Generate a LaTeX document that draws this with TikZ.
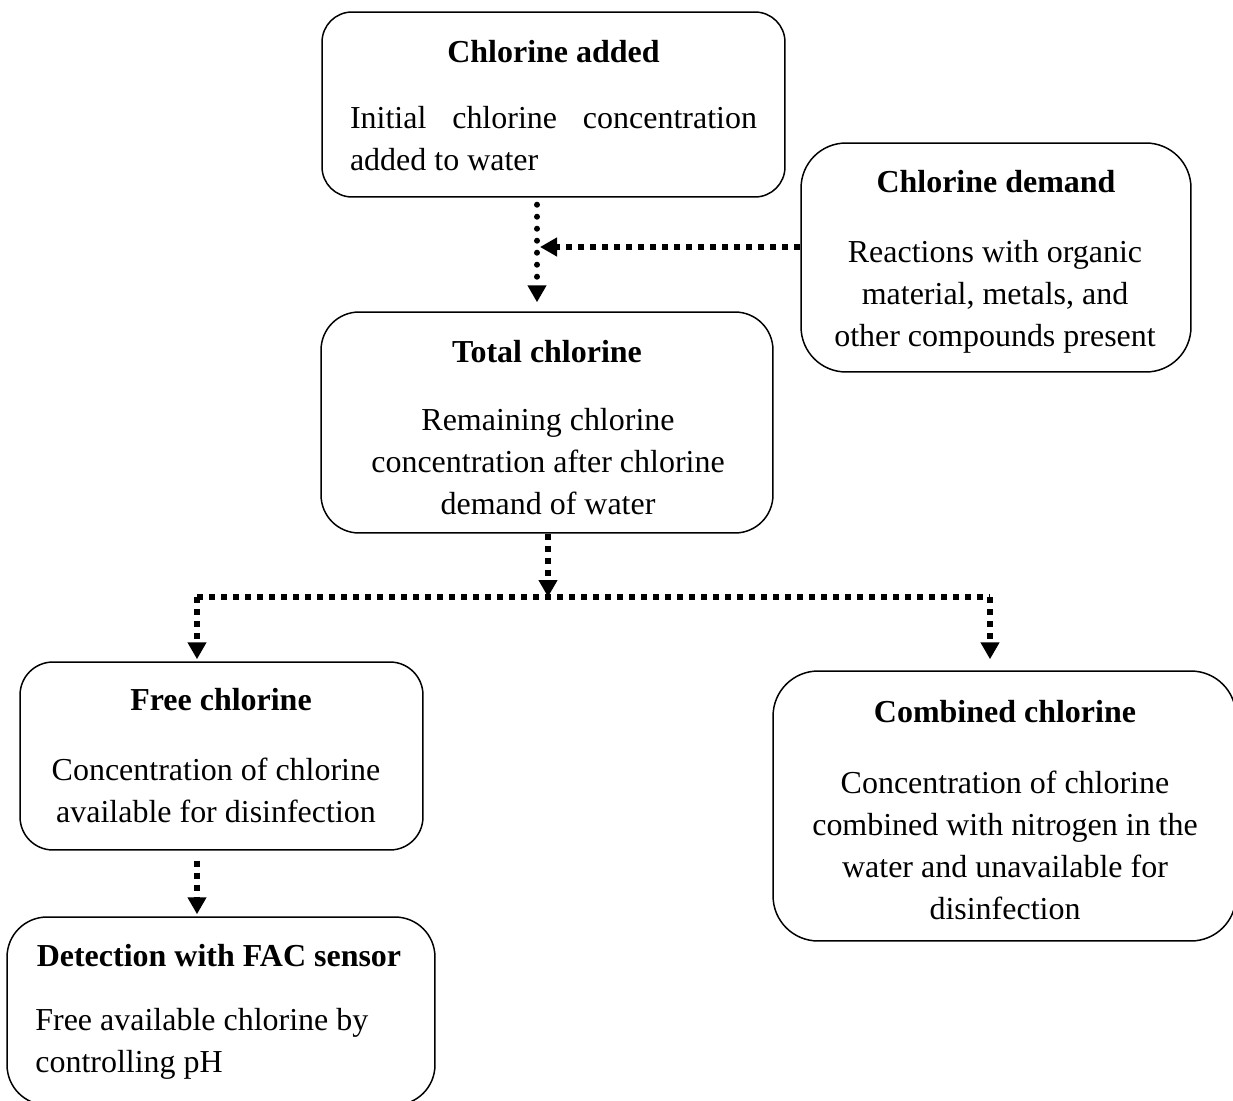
\documentclass[tikz,border=0pt]{standalone}
\usepackage{fontspec}
\setmainfont{Liberation Serif}
\usetikzlibrary{arrows.meta,calc}
\tikzset{>={Triangle[width=3.6mm,length=3.4mm]}}
\tikzstyle{box}=[draw,line width=0.85pt,inner sep=0pt]
\tikzstyle{head}=[anchor=base,inner sep=0pt,font=\bfseries\fontsize{18.2}{23.9}\selectfont]
\tikzstyle{body}=[anchor=north,align=center,inner sep=0pt,font=\fontsize{18.2}{23.9}\selectfont]
\tikzstyle{dotline}=[line width=1.2mm,line cap=round,dash pattern=on 0pt off 2.4mm]
\tikzstyle{sqline}=[line width=1.2mm,dash pattern=on 1.2mm off 1.2mm]

\begin{document}
\begin{tikzpicture}[x=0.02cm,y=-0.02cm]
  \clip (0,0) rectangle (1233,1101);

  % BOXES
  \node[box,rounded corners=6mm,minimum width=9.26cm,minimum height=3.7cm]
    (added) at (553.5,104.5) {};
  \node[box,rounded corners=9mm,minimum width=7.8cm,minimum height=4.58cm]
    (demand) at (996,257.5) {};
  \node[box,rounded corners=7.6mm,minimum width=9.04cm,minimum height=4.42cm]
    (total) at (547,422.5) {};
  \node[box,rounded corners=6.6mm,minimum width=8.06cm,minimum height=3.76cm]
    (free) at (221.5,756) {};
  \node[box,rounded corners=9mm,minimum width=9.26cm,minimum height=5.4cm]
    (combined) at (1004.5,806) {};
  \node[box,rounded corners=8mm,minimum width=8.56cm,minimum height=3.76cm]
    (detect) at (221,1011) {};

  % TEXT
  \node[head] (addedT) at (553.5,63) {Chlorine added};
  \node[body,align=flush left,text width=8.14cm] (addedB) at (553.5,98.6)
    {\strut Initial\hfill chlorine\hfill concentration\\added to water};
  \node[head] (demandT) at (996,193) {Chlorine demand};
  \node[body] (demandB) at (995,232.6)
    {\strut Reactions with organic\\material, metals, and\\other compounds present};
  \node[head] (totalT) at (547,362) {Total chlorine};
  \node[body] (totalB) at (548,400.6)
    {\strut Remaining chlorine\\concentration after chlorine\\demand of water};
  \node[head] (freeT) at (221,710) {Free chlorine};
  \node[body] (freeB) at (216,750.6)
    {\strut Concentration of chlorine\\available for disinfection};
  \node[head] (combinedT) at (1005,722) {Combined chlorine};
  \node[body] (combinedB) at (1005,763.6)
    {\strut Concentration of chlorine\\combined with nitrogen in the\\water and unavailable for\\disinfection};
  \node[head] (detectT) at (219,966) {Detection with FAC sensor};
  \node[body,anchor=north west,align=left] (detectB) at (35,1000.6)
    {\strut Free available chlorine by\\controlling pH};

  % ARROWS
  \coordinate (join) at (537,247);
  \coordinate (split) at (548,597);
  \coordinate (lft) at (197,597);
  \coordinate (rgt) at (990,597);
  \draw[dotline,->] ($(added.south -| join)+(0,7)$) -- ($(total.north -| join)+(0,-9)$);
  \draw[sqline,->] ($(demand.west)+(0,-10.5)$) -- ($(join)+(3,0)$);
  \draw[sqline,->] (total.south -| split) -- (split);
  \draw[sqline] (lft) -- (rgt);
  \draw[sqline,->] (lft) -- ($(free.north -| lft)+(0,-2)$);
  \draw[sqline,->] (rgt) -- ($(combined.north -| rgt)+(0,-11)$);
  \draw[sqline,->] ($(free.south -| lft)+(0,10)$) -- ($(detect.north -| lft)+(0,-2)$);

\end{tikzpicture}
\end{document}
